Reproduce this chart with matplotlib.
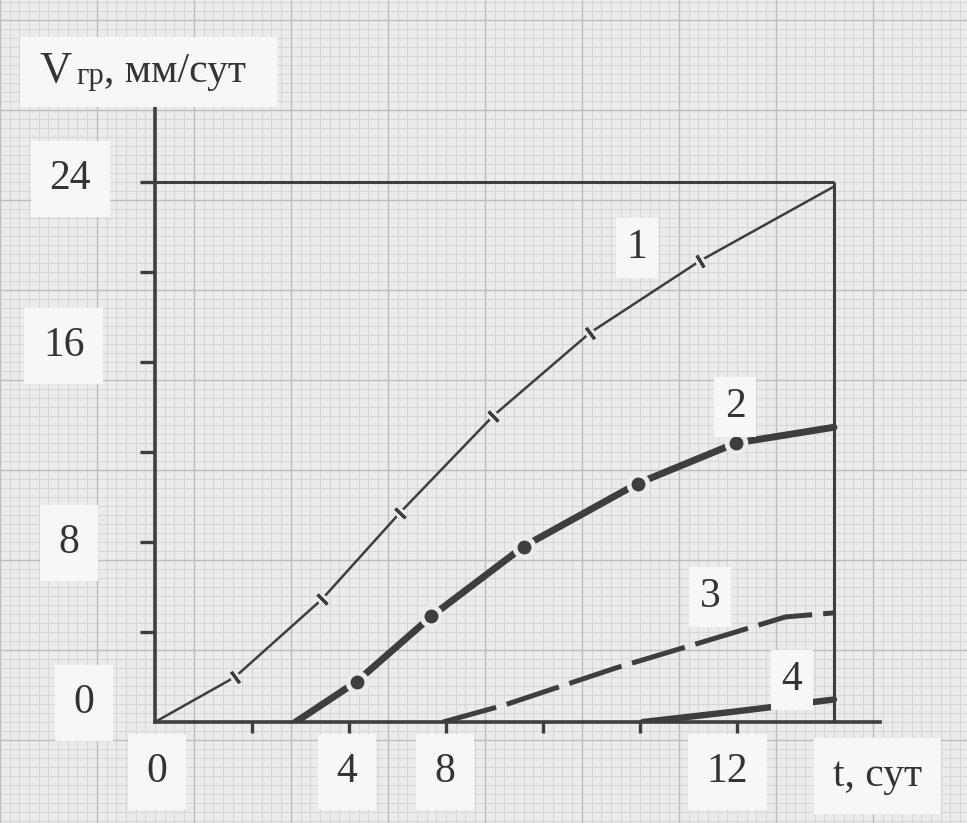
import numpy as np
import matplotlib
matplotlib.use("Agg")
import matplotlib.pyplot as plt

plt.rcParams['font.family'] = ['Liberation Serif', 'DejaVu Serif']

# curves: t in days, V in mm/day
t1 = [0.0, 1.65, 3.44, 5.05, 6.97, 8.97, 11.24, 14.0]
v1 = [0.0, 2.0, 5.45, 9.3, 13.6, 17.3, 20.5, 23.8]
t2 = [2.9, 4.16, 5.7, 7.6, 9.95, 11.98, 14.0]
v2 = [0.0, 1.8, 4.7, 7.8, 10.6, 12.4, 13.1]
t3 = [5.94, 7.2, 9.5, 11.9, 13.0, 14.0]
v3 = [0.0, 0.75, 2.4, 3.95, 4.67, 4.85]
t4 = [10.06, 11.9, 14.0]
v4 = [0.0, 0.45, 1.0]

curve_names = ["1", "2", "3", "4"]
name_pos = [(9.94, 21.07), (11.96, 14.0), (11.44, 5.56), (13.13, 1.87)]

ytick_text = ["24", "16", "8", "0"]
ytick_pos = [(-1.75, 24.13), (-1.88, 16.7), (-1.77, 7.96), (-1.46, 0.84)]
xtick_text = ["0", "4", "8", "12"]
xtick_pos = [(0.04, -2.22), (3.96, -2.22), (5.98, -2.22), (11.8, -2.22)]

W, H = 967, 823
PAPER = '#ebebeb'
INK = '#3e3e3e'
BOX = '#f7f7f7'

fig = plt.figure(figsize=(W / 100, H / 100), dpi=100)
fig.patch.set_facecolor(PAPER)

# graph paper underneath everything, in pixel units
bg = fig.add_axes([0, 0, 1, 1], zorder=0)
bg.set_xlim(0, W)
bg.set_ylim(H, 0)
bg.axis('off')
fx = 155 + 9.7 * np.arange(-16, 84)
fy = 722 - 9.0 * np.arange(-12, 81)
bg.vlines(fx, 0, H, color='#d3d3d3', lw=0.6)
bg.hlines(fy, 0, W, color='#d3d3d3', lw=0.6)
bg.vlines(fx[::10], 0, H, color='#bdbdbd', lw=1.0)
bg.hlines(fy[::10], 0, W, color='#bdbdbd', lw=1.0)

# main axes: 48.5 px per day, 22.5 px per mm/day
x0, y0 = 155, 722
xmax, ymax = 14.95, 27.3
ax = fig.add_axes([x0 / W, (H - y0) / H, xmax * 48.5 / W, ymax * 22.5 / H], zorder=1)
ax.set_facecolor('none')
ax.set_xlim(0, xmax)
ax.set_ylim(0, ymax)
for s in ['top', 'right']:
    ax.spines[s].set_visible(False)
for s in ['left', 'bottom']:
    ax.spines[s].set_color(INK)
    ax.spines[s].set_linewidth(2.6)
ax.hlines(24, 0, 14, color=INK, lw=2.2)
ax.vlines(14, 0, 24, color=INK, lw=2.2)

ax.set_xticks([2, 4, 6, 8, 10, 12])
ax.set_yticks([4, 8, 12, 16, 20, 24])
ax.tick_params(axis='x', direction='out', length=8, width=2.4, color=INK, labelbottom=False)
ax.tick_params(axis='y', direction='out', length=11, width=2.4, color=INK, labelleft=False)


def gap_markers(t, v, size):
    # paper-coloured halo so the line breaks around each marker
    ax.plot(t, v, ls='none', marker='o', ms=size, mfc=PAPER, mec='none', zorder=4)


def perp_angles(t, v):
    tt, vv = np.asarray(t), np.asarray(v)
    ang = []
    for i in range(1, len(tt) - 1):
        dx = (tt[i + 1] - tt[i - 1]) * 48.5
        dy = (vv[i + 1] - vv[i - 1]) * 22.5
        ang.append(np.degrees(np.arctan2(dy, dx)))
    return ang


# curve 1: thin line with short cross ticks
ax.plot(t1, v1, color=INK, lw=1.8, solid_capstyle='round', solid_joinstyle='round', zorder=3)
gap_markers(t1[1:-1], v1[1:-1], 7)
for ti, vi, a in zip(t1[1:-1], v1[1:-1], perp_angles(t1, v1)):
    ax.plot([ti], [vi], ls='none', marker=(2, 2, a), ms=10, mew=2.2, mec=INK, zorder=5)

# curve 2: heavy line broken by dots
ax.plot(t2, v2, color=INK, lw=5.0, solid_capstyle='round', solid_joinstyle='round', zorder=3)
gap_markers(t2[1:-1], v2[1:-1], 17)
ax.plot(t2[1:-1], v2[1:-1], ls='none', marker='o', ms=10, mfc=INK, mec='none', zorder=5)

# curve 3: long dashes
ax.plot(t3, v3, color=INK, lw=3.6, ls=(0, (11, 2.2)), dash_capstyle='butt', zorder=3)

# curve 4: heavy solid
ax.plot(t4, v4, color=INK, lw=4.6, solid_capstyle='round', zorder=3)

box = dict(boxstyle='square,pad=0.25', fc=BOX, ec='none')
lab = dict(fontsize=30, color='#333333', ha='center', va='center', clip_on=False, zorder=6)

for name, (tx, ty) in zip(curve_names, name_pos):
    ax.text(tx, ty, name, bbox=box, **lab)
for s, (tx, ty) in zip(ytick_text, ytick_pos):
    ax.text(tx, ty, s, bbox=dict(boxstyle='square,pad=0.45', fc=BOX, ec='none'), **lab)
for s, (tx, ty) in zip(xtick_text, xtick_pos):
    ax.text(tx, ty, s, bbox=dict(boxstyle='square,pad=0.45', fc=BOX, ec='none'), **lab)
ax.text(14.9, -2.38, "t, сут", bbox=dict(boxstyle='square,pad=0.45', fc=BOX, ec='none'), **lab)

# axis title with subscript
fig.patches.append(plt.Rectangle((20 / W, 1 - 107 / H), 257 / W, 70 / H,
                                 transform=fig.transFigure, fc=BOX, ec='none', zorder=2))
fig.text(40 / W, 1 - 82 / H, "V", fontsize=32, color='#333333', ha='left', va='baseline')
fig.text(76 / W, 1 - 84 / H, "гр", fontsize=22, color='#333333', ha='left', va='baseline')
fig.text(104 / W, 1 - 82 / H, ", мм/сут", fontsize=30, color='#333333', ha='left', va='baseline')

fig.savefig("out.png", dpi=100, facecolor=fig.get_facecolor())
